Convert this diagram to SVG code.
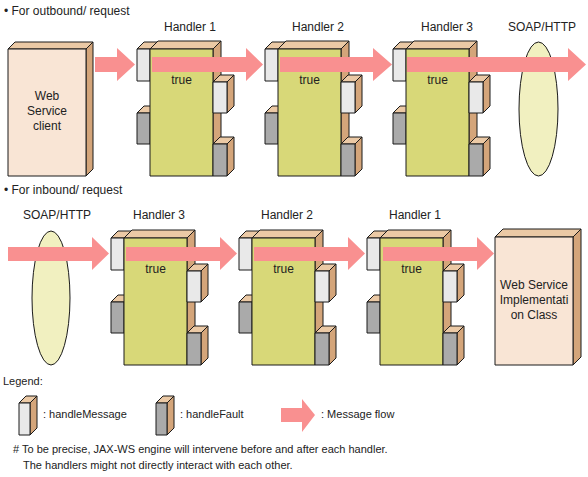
<svg xmlns="http://www.w3.org/2000/svg" width="588" height="477" viewBox="0 0 588 477">
<style>
text{font-family:"Liberation Sans",Arial,sans-serif;font-size:12px;fill:#222}
.sm{font-size:11px}
.c{text-anchor:middle}
.ln{stroke:#1a1a1a;stroke-width:1;stroke-linejoin:round}
.face{fill:#d8d878}
.top{fill:#ebc9a5}
.side{fill:#d4a57a}
.wht{fill:#e9e9e9}
.gry{fill:#aaaaaa}
.peach{fill:#f9e5d5}
.ell{fill:#f1f0c0;stroke:#1a1a1a;stroke-width:1}
.arr{fill:#f99090}
</style>
<defs>
<g id="handler">
  <polygon class="top ln" points="-13,0 -6,-7 7,-7 0,0"/>
  <rect class="wht ln" x="-13" y="0" width="13" height="32"/>
  <polygon class="top ln" points="-13,64 -6,57 7,57 0,64"/>
  <rect class="gry ln" x="-13" y="64" width="13" height="31"/>
  <polygon class="top ln" points="0,0 8,-8 71,-8 63,0"/>
  <polygon class="side ln" points="63,0 71,-8 71,119 63,127"/>
  <rect class="face ln" x="0" y="0" width="63" height="127"/>
  <polygon class="top ln" points="63,33 70,26 84,26 77,33"/>
  <polygon class="side ln" points="77,33 84,26 84,57 77,64"/>
  <rect class="wht ln" x="63" y="33" width="14" height="31"/>
  <polygon class="top ln" points="63,95 70,88 84,88 77,95"/>
  <polygon class="side ln" points="77,95 84,88 84,120 77,127"/>
  <rect class="gry ln" x="63" y="95" width="14" height="32"/>
  <text class="c" x="31.5" y="35">true</text>
</g>
</defs>

<text x="4" y="15">• For outbound/ request</text>
<text x="4" y="194">• For inbound/ request</text>

<g id="ws-client">
  <polygon class="top ln" points="8,49 15,42 93,42 86,49"/>
  <polygon class="side ln" points="86,49 93,42 93,169 86,176"/>
  <rect class="peach ln" x="8" y="49" width="78" height="127"/>
  <text class="c" x="47" y="100">Web</text>
  <text class="c" x="47" y="115">Service</text>
  <text class="c" x="47" y="130">client</text>
</g>
<g id="out-handler1">
  <text class="c" x="190" y="31">Handler 1</text>
  <use href="#handler" transform="translate(150,49)"/>
</g>
<g id="out-handler2">
  <text class="c" x="318" y="31">Handler 2</text>
  <use href="#handler" transform="translate(278,49)"/>
</g>
<g id="out-handler3">
  <text class="c" x="447" y="31">Handler 3</text>
  <use href="#handler" transform="translate(406,49)"/>
</g>
<g id="out-soap">
  <text class="c" x="542" y="31">SOAP/HTTP</text>
  <ellipse class="ell" cx="538.5" cy="109" rx="19.5" ry="67"/>
</g>

<g id="in-soap">
  <text class="c" x="57" y="219">SOAP/HTTP</text>
  <ellipse class="ell" cx="51" cy="298" rx="19" ry="67"/>
</g>
<g id="in-handler3">
  <text class="c" x="159" y="219">Handler 3</text>
  <use href="#handler" transform="translate(124,238)"/>
</g>
<g id="in-handler2">
  <text class="c" x="287" y="219">Handler 2</text>
  <use href="#handler" transform="translate(252,238)"/>
</g>
<g id="in-handler1">
  <text class="c" x="415" y="219">Handler 1</text>
  <use href="#handler" transform="translate(380,238)"/>
</g>
<g id="ws-impl">
  <polygon class="top ln" points="495,237 503,229 581,229 573,237"/>
  <polygon class="side ln" points="573,237 581,229 581,357 573,365"/>
  <rect class="peach ln" x="495" y="237" width="78" height="128"/>
  <text class="c" x="534" y="289">Web Service</text>
  <text class="c" x="534" y="304">Implementati</text>
  <text class="c" x="534" y="319">on Class</text>
</g>

<g id="connectors">
  <polygon class="arr" points="95,57 117,57 117,48 135,64.5 117,81 117,72 95,72"/>
  <polygon class="arr" points="152,57 246,57 246,48 263,64.5 246,81 246,72 152,72"/>
  <polygon class="arr" points="280,57 373,57 373,48 392,64.5 373,81 373,72 280,72"/>
  <polygon class="arr" points="407,57 568,57 568,48 586,64.5 568,81 568,72 407,72"/>
  <polygon class="arr" points="8,247 92,247 92,237 109,253.5 92,270 92,261 8,261"/>
  <polygon class="arr" points="126,247 220,247 220,237 237,253.5 220,270 220,261 126,261"/>
  <polygon class="arr" points="254,247 348,247 348,237 365,253.5 348,270 348,261 254,261"/>
  <polygon class="arr" points="383,247 477,247 477,237 494,253.5 477,270 477,261 383,261"/>
</g>

<g id="legend">
  <text class="sm" x="3" y="385">Legend:</text>
  <g id="legend-message">
    <polygon class="top ln" points="19,403 26,396 37,396 30,403"/>
    <polygon class="side ln" points="30,403 37,396 37,428 30,435"/>
    <rect class="wht ln" x="19" y="403" width="11" height="32"/>
    <text class="sm" x="43" y="418">: handleMessage</text>
  </g>
  <g id="legend-fault">
    <polygon class="top ln" points="156,403 163,396 174,396 167,403"/>
    <polygon class="side ln" points="167,403 174,396 174,428 167,435"/>
    <rect class="gry ln" x="156" y="403" width="11" height="32"/>
    <text class="sm" x="180" y="418">: handleFault</text>
  </g>
  <g id="legend-flow">
    <polygon class="arr" points="281,408 302,408 302,399 315,415 302,432 302,422 281,422"/>
    <text class="sm" x="321" y="418">: Message flow</text>
  </g>
  <text class="sm" x="13" y="453"># To be precise, JAX-WS engine will intervene before and after each handler.</text>
  <text class="sm" x="23" y="469">The handlers might not directly interact with each other.</text>
</g>
</svg>
